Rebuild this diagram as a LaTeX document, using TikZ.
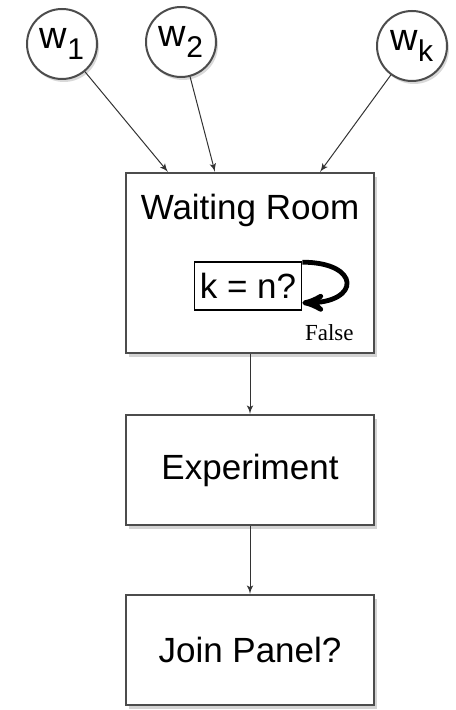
\documentclass[tikz,border=0pt]{standalone}
\usepackage{fontspec}
\setmainfont{Liberation Sans}
\newfontfamily\falsefont{Liberation Serif}
\usetikzlibrary{arrows,positioning,shadows}

\newcommand{\wsub}[1]{w\raisebox{-0.55ex}{\fontsize{15}{15}\selectfont #1}}

\begin{document}
\begin{tikzpicture}[x=0.5pt,y=-0.5pt,->,>=latex',draw=black!80,line width=0.5pt,
    font=\fontsize{17.5}{20}\selectfont,
    box node/.style={rectangle,draw=black!70,line width=1pt,fill=white,minimum width=124pt,
      drop shadow={shadow xshift=1.5pt,shadow yshift=-2pt,opacity=0.35}},
    worker node/.style={circle,draw=black!70,line width=1pt,fill=white,minimum size=35pt,inner sep=0pt,
      font=\fontsize{19}{22}\selectfont,drop shadow={shadow xshift=1pt,shadow yshift=-1.5pt,opacity=0.3}},
    test node/.style={rectangle,draw=black,line width=0.8pt,minimum width=53.5pt,minimum height=24pt,inner sep=1pt}]

  \useasboundingbox (0,0) rectangle (455,710);

  \node[worker node] (w1) at (62,44) {\wsub{1}};
  \node[worker node] (w2) at (181,42) {\wsub{2}};
  \node[worker node] (wk) at (412,46) {\wsub{k}};

  \node[box node,minimum height=90pt] (wait) at (250,263) {};
  \node (waittext) at ([yshift=-19pt]wait.north) {Waiting Room};
  \node[test node] (kn) at ([xshift=-1pt,yshift=-11.5pt]wait.center) {k = n?};
  \node (false) at ([xshift=13.5pt,yshift=-11pt]kn.south east) {\falsefont\fontsize{11.5}{13}\selectfont False};
  \node[box node,minimum height=55pt,below=30pt of wait] (exp) {Experiment};
  \node[box node,minimum height=55pt,below=34pt of exp] (join) {Join Panel?};

  \path (w1) edge ([xshift=-41pt]wait.north)
        (w2) edge ([xshift=-17.5pt]wait.north)
        (wk) edge ([xshift=35pt]wait.north)
        (wait) edge (exp)
        (exp) edge (join);
  \draw[-stealth',line width=2.4pt,draw=black] ([yshift=-0.5pt]kn.north east)
    to[out=0,in=0,looseness=3.7] ([yshift=4pt]kn.south east);
\end{tikzpicture}
\end{document}
